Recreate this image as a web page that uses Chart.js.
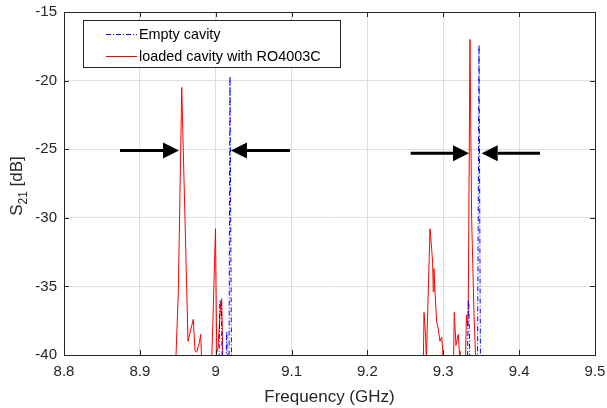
<!DOCTYPE html>
<html><head><meta charset="utf-8">
<script src="https://cdn.jsdelivr.net/npm/chart.js@4/dist/chart.umd.min.js"></script>
<style>html,body{margin:0;padding:0;background:#fff}canvas{display:block}</style>
</head><body>
<canvas id="c" width="607" height="408"></canvas>
<script>
// ---- data (frequency in GHz, S21 in dB) ----
const emptyFreq = [9.0043, 9.0054, 9.0074, 9.0087, 9.0135, 9.0145, 9.0155, 9.0175, 9.0188, 9.0208,
                   9.3319, 9.3329, 9.3336, 9.3352, 9.3451, 9.3471, 9.3490];
const emptyDb   = [-41, -36.0, -36.2, -41, -41, -38.3, -41, -41, -19.7, -41,
                   -41, -36.0, -36.0, -41, -41, -17.4, -41];
const loadedFreq = [8.9470, 8.9507, 8.9552, 8.9635, 8.9704, 8.9727, 8.9749, 8.9784, 8.9802, 8.9819,
                    8.9944, 8.9960, 8.9997, 9.0013, 9.0030, 9.0066, 9.0079, 9.0096,
                    9.2736, 9.2746, 9.2768, 9.2776, 9.2825, 9.2847, 9.2860, 9.2868, 9.2877, 9.2891,
                    9.2913, 9.2934, 9.2956, 9.2979, 9.2992, 9.3000,
                    9.3134, 9.3145, 9.3167, 9.3198, 9.3211, 9.3220,
                    9.3290, 9.3305, 9.3319, 9.3329, 9.3352, 9.3374, 9.3405, 9.3431];
const loadedDb   = [-41, -35.4, -20.5, -39.0, -37.4, -39.7, -39.8, -39.1, -38.5, -41,
                    -41, -38.1, -30.8, -39.8, -39.5, -36.2, -35.9, -41,
                    -41, -36.9, -38.7, -40.5, -30.8, -32.3, -33.3, -35.4, -33.7, -35.4,
                    -37.6, -38.1, -39.0, -38.7, -39.6, -41,
                    -41, -36.9, -39.3, -38.5, -39.7, -41,
                    -41, -37.1, -37.9, -36.8, -17.0, -30.1, -37.0, -41];
const seriesNames = ['Empty cavity', 'loaded cavity with RO4003C'];
const xTicks = [8.8, 8.9, 9.0, 9.1, 9.2, 9.3, 9.4, 9.5];
const xTickLabels = ['8.8', '8.9', '9', '9.1', '9.2', '9.3', '9.4', '9.5'];
const yTicks = [-40, -35, -30, -25, -20, -15];
const yTickLabels = ['-40', '-35', '-30', '-25', '-20', '-15'];
const xTitle = 'Frequency (GHz)';
const yTitleMain = 'S', yTitleSub = '21', yTitleRest = ' [dB]';
// arrows (tail -> tip) at a given S21 level
const arrowTailFreq = [8.8738, 9.0979, 9.2570, 9.4275];
const arrowTipFreq  = [8.9516, 9.0201, 9.3339, 9.3506];
const arrowDb       = [-25.1, -25.1, -25.3, -25.3];

const FONT = "'Liberation Sans', Arial, Helvetica, sans-serif";
const AX = '#262626';

const pts = (xs, ys) => xs.map((x, i) => ({x: x, y: ys[i]}));
const noPad = s => { s.paddingLeft = 0; s.paddingRight = 0; s.paddingTop = 0; s.paddingBottom = 0; };

const decor = {
  id: 'decor',
  afterDatasetsDraw(chart) {
    const ctx = chart.ctx, xs = chart.scales.x, ys = chart.scales.y;
    ctx.save();
    ctx.fillStyle = '#000'; ctx.strokeStyle = '#000'; ctx.lineWidth = 3;
    for (let i = 0; i < arrowTailFreq.length; i++) {
      const x0 = xs.getPixelForValue(arrowTailFreq[i]);
      const x1 = xs.getPixelForValue(arrowTipFreq[i]);
      const y = ys.getPixelForValue(arrowDb[i]);
      const dir = Math.sign(x1 - x0), head = 16, hh = 8;
      ctx.beginPath(); ctx.moveTo(x0, y); ctx.lineTo(x1 - dir * head, y); ctx.stroke();
      ctx.beginPath(); ctx.moveTo(x1, y); ctx.lineTo(x1 - dir * head, y - hh);
      ctx.lineTo(x1 - dir * head, y + hh); ctx.closePath(); ctx.fill();
    }
    ctx.restore();
  },
  afterDraw(chart) {
    const ctx = chart.ctx, a = chart.chartArea, xs = chart.scales.x, ys = chart.scales.y;
    ctx.save();
    // box + inward ticks
    ctx.strokeStyle = AX; ctx.lineWidth = 1;
    ctx.strokeRect(Math.round(a.left) + 0.5, Math.round(a.top) + 0.5,
                   Math.round(a.right - a.left), Math.round(a.bottom - a.top));
    ctx.beginPath();
    xTicks.forEach(v => {
      const px = Math.round(xs.getPixelForValue(v)) + 0.5;
      ctx.moveTo(px, a.bottom); ctx.lineTo(px, a.bottom - 5);
      ctx.moveTo(px, a.top); ctx.lineTo(px, a.top + 5);
    });
    yTicks.forEach(v => {
      const py = Math.round(ys.getPixelForValue(v)) + 0.5;
      ctx.moveTo(a.left, py); ctx.lineTo(a.left + 5, py);
      ctx.moveTo(a.right, py); ctx.lineTo(a.right - 5, py);
    });
    ctx.stroke();
    // legend
    const lx = 83.5, ly = 20.5, lw = 257, lh = 47;
    ctx.fillStyle = '#fff'; ctx.fillRect(lx, ly, lw, lh);
    ctx.strokeStyle = AX; ctx.strokeRect(lx, ly, lw, lh);
    const rows = [34, 56];
    chart.data.datasets.forEach((ds, i) => {
      ctx.beginPath();
      ctx.strokeStyle = ds.borderColor; ctx.lineWidth = 1;
      ctx.setLineDash(ds.borderDash || []);
      ctx.moveTo(106, rows[i] + 0.5); ctx.lineTo(137, rows[i] + 0.5); ctx.stroke();
      ctx.setLineDash([]);
      ctx.fillStyle = '#000'; ctx.font = '14.4px ' + FONT; ctx.textBaseline = 'middle'; ctx.textAlign = 'left';
      ctx.fillText(ds.label, 139, rows[i] + 1);
    });
    // y axis title with subscript
    ctx.fillStyle = AX; ctx.textBaseline = 'alphabetic'; ctx.textAlign = 'left';
    const f1 = '17px ' + FONT, f2 = '12px ' + FONT;
    ctx.font = f1; const w1 = ctx.measureText(yTitleMain).width, w3 = ctx.measureText(yTitleRest).width;
    ctx.font = f2; const w2 = ctx.measureText(yTitleSub).width;
    const total = w1 + w2 + w3;
    ctx.translate(21.5, 186); ctx.rotate(-Math.PI / 2);
    let x = -total / 2;
    ctx.font = f1; ctx.fillText(yTitleMain, x, 0); x += w1;
    ctx.font = f2; ctx.fillText(yTitleSub, x, 5); x += w2;
    ctx.font = f1; ctx.fillText(yTitleRest, x, 0);
    ctx.restore();
  }
};

new Chart(document.getElementById('c'), {
  type: 'scatter',
  data: {
    datasets: [
      { label: seriesNames[0], data: pts(emptyFreq, emptyDb), showLine: true, borderColor: '#0000ff',
        borderWidth: 1, borderDash: [5, 2, 1, 2], pointRadius: 0, fill: false, tension: 0 },
      { label: seriesNames[1], data: pts(loadedFreq, loadedDb), showLine: true, borderColor: '#ff0000',
        borderWidth: 1, pointRadius: 0, fill: false, tension: 0 }
    ]
  },
  options: {
    responsive: false, animation: false, devicePixelRatio: 1,
    layout: { autoPadding: false, padding: { left: 0, top: 12, right: 12, bottom: 0 } },
    plugins: { legend: { display: false }, tooltip: { enabled: false } },
    scales: {
      x: {
        type: 'linear', min: 8.8, max: 9.5,
        afterBuildTicks: s => { s.ticks = xTicks.map(v => ({ value: v })); },
        afterFit: s => { s.height = 53; noPad(s); },
        ticks: { callback: (v, i) => xTickLabels[i], color: AX, padding: 8, maxRotation: 0,
                 font: { family: FONT, size: 15 } },
        grid: { color: '#dfdfdf', drawTicks: false },
        border: { display: false },
        title: { display: true, text: xTitle, color: AX, font: { family: FONT, size: 17 },
                 padding: { top: 0, bottom: 0 } }
      },
      y: {
        type: 'linear', min: -40, max: -15,
        afterBuildTicks: s => { s.ticks = yTicks.map(v => ({ value: v })); },
        afterFit: s => { s.width = 64; noPad(s); },
        ticks: { callback: (v, i) => yTickLabels[i], color: AX, padding: 7,
                 font: { family: FONT, size: 15 } },
        grid: { color: '#dfdfdf', drawTicks: false },
        border: { display: false }
      }
    }
  },
  plugins: [decor]
});
</script>
</body></html>
